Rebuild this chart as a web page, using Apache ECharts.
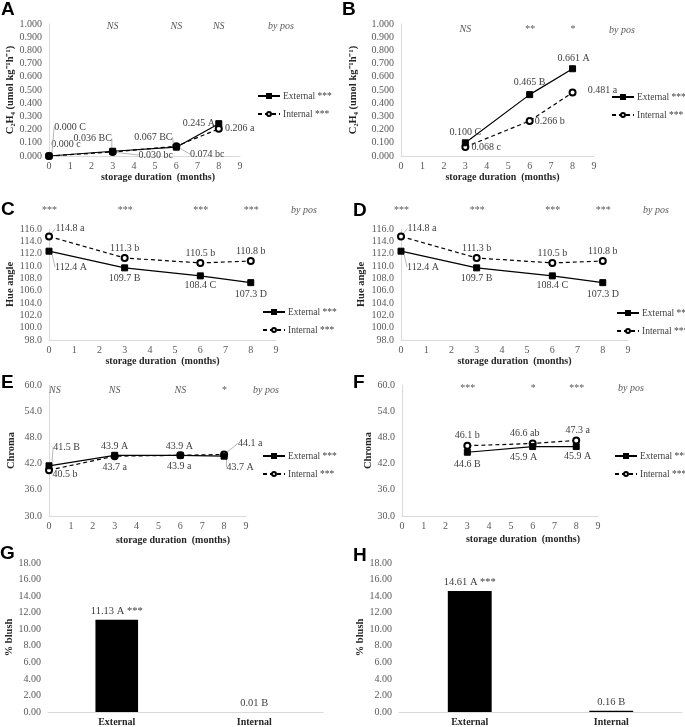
<!DOCTYPE html>
<html><head><meta charset="utf-8">
<script src="https://cdn.jsdelivr.net/npm/echarts@6.0.0/dist/echarts.min.js"></script>
<style>html,body{margin:0;padding:0;background:#fff}#c{width:685px;height:727px}</style>
</head><body><div id="c"></div>
<script>
// ---------------- DATA ----------------
const monthsA = [0, 3, 6, 8];
const monthsB = [3, 6, 8];
const ethExtA = [0.000, 0.036, 0.067, 0.245];
const ethIntA = [0.000, 0.030, 0.074, 0.206];
const ethExtALabels = ['0.000 C', '0.036 BC', '0.067 BC', '0.245 A'];
const ethIntALabels = ['0.000 c', '0.030 bc', '0.074 bc', '0.206 a'];
const ethExtB = [0.100, 0.465, 0.661];
const ethIntB = [0.068, 0.266, 0.481];
const ethExtBLabels = ['0.100 C', '0.465 B', '0.661 A'];
const ethIntBLabels = ['0.068 c', '0.266 b', '0.481 a'];
const hueExt = [112.4, 109.7, 108.4, 107.3];
const hueInt = [114.8, 111.3, 110.5, 110.8];
const hueExtLabels = ['112.4 A', '109.7 B', '108.4 C', '107.3 D'];
const hueIntLabels = ['114.8 a', '111.3 b', '110.5 b', '110.8 b'];
const chromaExtE = [41.5, 43.9, 43.9, 43.7];
const chromaIntE = [40.5, 43.7, 43.9, 44.1];
const chromaExtELabels = ['41.5 B', '43.9 A', '43.9 A', '43.7 A'];
const chromaIntELabels = ['40.5 b', '43.7 a', '43.9 a', '44.1 a'];
const chromaExtF = [44.6, 45.9, 45.9];
const chromaIntF = [46.1, 46.6, 47.3];
const chromaExtFLabels = ['44.6 B', '45.9 A', '45.9 A'];
const chromaIntFLabels = ['46.1 b', '46.6 ab', '47.3 a'];
const blushCats = ['External', 'Internal'];
const blushG = [11.13, 0.01];
const blushH = [14.61, 0.16];
const blushGLabels = ['11.13 A ***', '0.01 B'];
const blushHLabels = ['14.61 A ***', '0.16 B'];
const sigA = {3: 'NS', 6: 'NS', 8: 'NS'};
const sigB = {3: 'NS', 6: '**', 8: '*'};
const sigC = {0: '***', 3: '***', 6: '***', 8: '***'};
const sigD = {0: '***', 3: '***', 6: '***', 8: '***'};
const sigE = {0: 'NS', 3: 'NS', 6: 'NS', 8: '*'};
const sigF = {3: '***', 6: '*', 8: '***'};
const seriesNames = ['External ***', 'Internal ***'];
const xTitle = 'storage duration  (months)';
const yTitles = ['C\u2082H\u2084 (umol kg\u207B\u00B9h\u207B\u00B9)', 'C\u2082H\u2084 (umol kg\u207B\u00B9h\u207B\u00B9)', 'Hue angle', 'Hue angle', 'Chroma', 'Chroma', '% blush', '% blush'];

// ---------------- STYLE / LAYOUT ----------------
const SERIF = '"Liberation Serif","Times New Roman",serif';
const SANS = '"Liberation Sans",Arial,sans-serif';
const AX = '#d9d9d9', TXT = '#595959', LBL = '#404040';
const grids = [
  {left: 49, top: 24, width: 191, height: 132},
  {left: 401, top: 24, width: 193, height: 132},
  {left: 49, top: 229, width: 227, height: 111},
  {left: 401, top: 229, width: 227, height: 111},
  {left: 49, top: 385, width: 197, height: 131},
  {left: 402, top: 385, width: 196, height: 131},
  {left: 48, top: 563, width: 275, height: 149},
  {left: 399, top: 563, width: 283, height: 150}
];
const yNameGap = [33, 42, 32, 34, 32, 28, 31, 26];
const xNamePad = [27, 10, 0, 0, 51, 46];
const xNameGap = [16, 16, 16, 16, 19, 18];
const yRanges = [[0, 1, 0.1, 3], [0, 1, 0.1, 3], [98, 116, 2, 1], [98, 116, 2, 1], [30, 60, 6, 1], [30, 60, 6, 1], [0, 18, 2, 2], [0, 18, 2, 2]];
const sigs = [sigA, sigB, sigC, sigD, sigE, sigF];
const sigMargin = [-2, -5, 19, 19, -5, -3];

// label offsets (label centre relative to point) and leader line flags
const offExtA = [[21, -29], [-20, -13], [-23, -10], [-20, 0]], lnExtA = [1, 1, 1, 0];
const offIntA = [[17, -12], [43, 3], [31, 8], [21, 0]], lnIntA = [0, 1, 1, 0];
const offExtB = [[0, -10], [0, -12], [1, -10]], lnExtB = [0, 0, 0];
const offIntB = [[21, 0], [20, 0], [30, -2]], lnIntB = [0, 0, 0];
const offExtC = [[22, 16], [0, 10.5], [0, 10], [0, 11.5]], lnExtC = [1, 0, 0, 0];
const offIntC = [[21, -8], [0, -10], [0, -10], [0, -10]], lnIntC = [1, 0, 0, 0];
const offExtE = [[17.5, -18.6], [0, -9], [-1, -9], [16, 11]], lnExtE = [1, 0, 0, 1];
const offIntE = [[16, 4], [0, 11], [-1, 11], [26, -11]], lnIntE = [1, 0, 0, 1];
const offExtF = [[0, 12], [-9, 10.6], [1.5, 10]], lnExtF = [0, 0, 0];
const offIntF = [[0, -10], [-8, -10], [1.5, -10]], lnIntF = [0, 0, 0];

function lineSeries(name, gi, xs, ys, labels, offs, lines, dashed) {
  return {
    type: 'line', name: name, xAxisIndex: gi, yAxisIndex: gi,
    data: xs.map((x, i) => ({value: [x, ys[i]], labelLine: {show: !!lines[i]}})),
    symbol: dashed ? 'emptyCircle' : 'rect', symbolSize: 6,
    itemStyle: {color: '#000', borderColor: '#000', borderWidth: 1},
    lineStyle: {color: '#000', width: 1.2, type: dashed ? [4, 3] : 'solid'},
    label: {show: true, position: 'inside', formatter: p => labels[p.dataIndex],
      fontFamily: SERIF, fontSize: 10, color: LBL},
    labelLine: {show: false, lineStyle: {color: '#a6a6a6', width: 0.8}},
    labelLayout: p => ({dx: offs[p.dataIndex][0], dy: offs[p.dataIndex][1]}),
    z: dashed ? 2 : 3, animation: false
  };
}

const xAxes = [], yAxes = [];
for (let i = 0; i < 6; i++) {
  xAxes.push({
    type: 'value', gridIndex: i, min: 0, max: 9, interval: 1,
    axisLine: {show: true, lineStyle: {color: AX}}, axisTick: {show: false}, splitLine: {show: false},
    axisLabel: {color: TXT, fontFamily: SERIF, fontSize: 10, margin: 5},
    name: xTitle, nameLocation: 'middle', nameGap: xNameGap[i],
    nameTextStyle: {fontFamily: SERIF, fontWeight: 'bold', fontSize: 10, color: '#262626', padding: [0, 0, 0, xNamePad[i]]}
  });
}
for (let i = 6; i < 8; i++) {
  xAxes.push({
    type: 'category', gridIndex: i, data: blushCats,
    axisLine: {show: true, lineStyle: {color: AX}}, axisTick: {show: false},
    axisLabel: {color: '#262626', fontFamily: SERIF, fontWeight: 'bold', fontSize: 10, margin: 5}
  });
}
for (let i = 0; i < 6; i++) {
  const sg = sigs[i];
  xAxes.push({
    type: 'value', gridIndex: i, position: 'top', min: 0, max: 9, interval: 1,
    axisLine: {show: false}, axisTick: {show: false}, splitLine: {show: false},
    axisLabel: {formatter: v => sg[v] || '', margin: sigMargin[i], verticalAlign: 'middle',
      fontStyle: 'italic', fontFamily: SERIF, fontSize: 10, color: TXT,
      showMinLabel: true, showMaxLabel: true, alignMinLabel: i === 4 ? 'left' : 'center'}
  });
}
for (let i = 0; i < 8; i++) {
  const r = yRanges[i];
  yAxes.push({
    type: 'value', gridIndex: i, min: r[0], max: r[1], interval: r[2],
    axisLine: {show: i < 6, lineStyle: {color: AX}}, axisTick: {show: false}, splitLine: {show: false},
    axisLabel: {color: TXT, fontFamily: SERIF, fontSize: 10, margin: 7, formatter: v => v.toFixed(r[3])},
    name: yTitles[i], nameLocation: 'middle', nameRotate: 90, nameGap: yNameGap[i],
    nameTextStyle: {fontFamily: SERIF, fontWeight: 'bold', fontSize: 10.5, color: '#262626'}
  });
}

const series = [
  lineSeries(seriesNames[0], 0, monthsA, ethExtA, ethExtALabels, offExtA, lnExtA, false),
  lineSeries(seriesNames[1], 0, monthsA, ethIntA, ethIntALabels, offIntA, lnIntA, true),
  lineSeries(seriesNames[0], 1, monthsB, ethExtB, ethExtBLabels, offExtB, lnExtB, false),
  lineSeries(seriesNames[1], 1, monthsB, ethIntB, ethIntBLabels, offIntB, lnIntB, true),
  lineSeries(seriesNames[0], 2, monthsA, hueExt, hueExtLabels, offExtC, lnExtC, false),
  lineSeries(seriesNames[1], 2, monthsA, hueInt, hueIntLabels, offIntC, lnIntC, true),
  lineSeries(seriesNames[0], 3, monthsA, hueExt, hueExtLabels, offExtC, lnExtC, false),
  lineSeries(seriesNames[1], 3, monthsA, hueInt, hueIntLabels, offIntC, lnIntC, true),
  lineSeries(seriesNames[0], 4, monthsA, chromaExtE, chromaExtELabels, offExtE, lnExtE, false),
  lineSeries(seriesNames[1], 4, monthsA, chromaIntE, chromaIntELabels, offIntE, lnIntE, true),
  lineSeries(seriesNames[0], 5, monthsB, chromaExtF, chromaExtFLabels, offExtF, lnExtF, false),
  lineSeries(seriesNames[1], 5, monthsB, chromaIntF, chromaIntFLabels, offIntF, lnIntF, true),
  {type: 'bar', name: 'blushG', xAxisIndex: 6, yAxisIndex: 6, data: blushG, barWidth: '31%',
   itemStyle: {color: '#000'}, animation: false,
   label: {show: true, position: 'top', distance: 3, formatter: p => blushGLabels[p.dataIndex], fontFamily: SERIF, fontSize: 10.5, color: LBL}},
  {type: 'bar', name: 'blushH', xAxisIndex: 7, yAxisIndex: 7, data: blushH, barWidth: '31%',
   itemStyle: {color: '#000'}, animation: false,
   label: {show: true, position: 'top', distance: 3, formatter: p => blushHLabels[p.dataIndex], fontFamily: SERIF, fontSize: 10.5, color: LBL}}
];

const legendPos = [[257, 91], [611, 92], [262, 307], [616, 308], [262, 451], [614, 451]];
const legends = legendPos.map(p => ({
  data: seriesNames, orient: 'vertical', left: p[0], top: p[1], padding: 0,
  itemWidth: 22, itemHeight: 5, itemGap: 8, selectedMode: false,
  textStyle: {fontFamily: SERIF, fontSize: 9.5, color: LBL, padding: [0, 0, 0, -2]}
}));

const letters = [['A', 1, 0], ['B', 342, 0], ['C', 1, 200], ['D', 353, 201], ['E', 1, 373], ['F', 353, 373], ['G', 0, 544], ['H', 353, 546]];
const byPos = [[281, 26], [622, 30], [304, 210], [656, 210], [266, 390], [631, 388]];
const graphic = [];
letters.forEach(l => graphic.push({type: 'text', left: l[1], top: l[2], z: 100,
  style: {text: l[0], font: 'bold 19px ' + SANS, fill: '#000'}}));
byPos.forEach(b => graphic.push({type: 'text', x: b[0], y: b[1], z: 100,
  style: {text: 'by pos', font: 'italic 10px ' + SERIF, fill: TXT, align: 'center', verticalAlign: 'middle'}}));

const chart = echarts.init(document.getElementById('c'), null, {renderer: 'canvas'});
chart.setOption({
  animation: false, backgroundColor: '#fff',
  grid: grids, xAxis: xAxes, yAxis: yAxes, series: series, legend: legends, graphic: graphic
});
</script></body></html>
